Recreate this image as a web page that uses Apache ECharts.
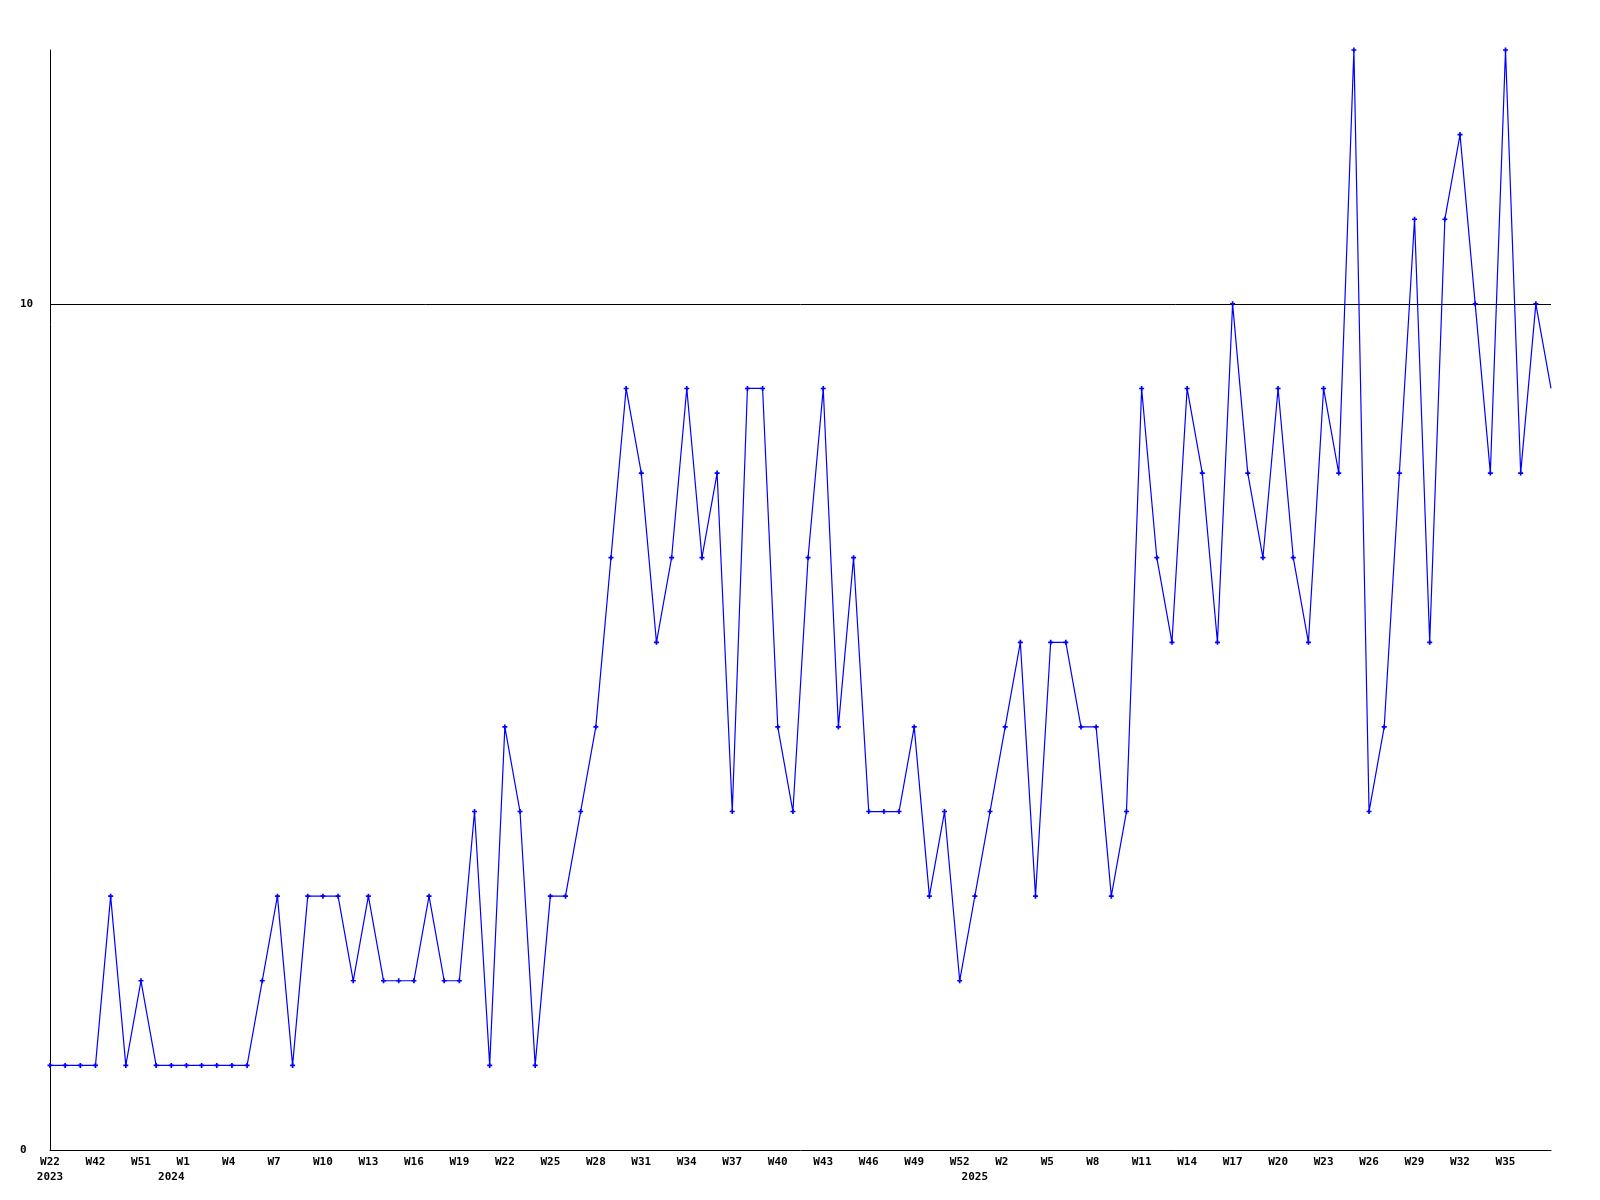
<!DOCTYPE html>
<html>
<head>
<meta charset="utf-8">
<title>weekly</title>
<script src="https://cdn.jsdelivr.net/npm/echarts@6/dist/echarts.min.js"></script>
<style>
    html, body { margin: 0; padding: 0; background: #fff; }
    #chart1 { width: 1600px; height: 1200px; }
</style>
</head>
<body>
<div id="chart1"></div>
<script>
// week labels, one per point (only every 3rd one is shown)
const categories = [
    'W22', 'W33', 'W38', 'W42', 'W45', 'W48', 'W51', 'W52',
    'W0', 'W1', 'W2', 'W3', 'W4', 'W5', 'W6', 'W7', 'W8', 'W9', 'W10',
    'W11', 'W12', 'W13', 'W14', 'W15', 'W16', 'W17', 'W18', 'W19', 'W20',
    'W21', 'W22', 'W23', 'W24', 'W25', 'W26', 'W27', 'W28', 'W29', 'W30',
    'W31', 'W32', 'W33', 'W34', 'W35', 'W36', 'W37', 'W38', 'W39', 'W40',
    'W41', 'W42', 'W43', 'W44', 'W45', 'W46', 'W47', 'W48', 'W49', 'W50',
    'W51', 'W52',
    'W0', 'W1', 'W2', 'W3', 'W4', 'W5', 'W6', 'W7', 'W8', 'W9', 'W10',
    'W11', 'W12', 'W13', 'W14', 'W15', 'W16', 'W17', 'W18', 'W19', 'W20',
    'W21', 'W22', 'W23', 'W24', 'W25', 'W26', 'W27', 'W28', 'W29', 'W30',
    'W31', 'W32', 'W33', 'W34', 'W35', 'W36', 'W37', 'W38'
]
// year written under the first point of each year
const yearLabels = { 0: '2023', 8: '2024', 61: '2025' }

const values = [
    1, 1, 1, 1, 3, 1, 2, 1, 1, 1,
    1, 1, 1, 1, 2, 3, 1, 3, 3, 3,
    2, 3, 2, 2, 2, 3, 2, 2, 4, 1,
    5, 4, 1, 3, 3, 4, 5, 7, 9, 8,
    6, 7, 9, 7, 8, 4, 9, 9, 5, 4,
    7, 9, 5, 7, 4, 4, 4, 5, 3, 4,
    2, 3, 4, 5, 6, 3, 6, 6, 5, 5,
    3, 4, 9, 7, 6, 9, 8, 6, 10, 8,
    7, 9, 7, 6, 9, 8, 13, 4, 5, 8,
    11, 6, 11, 12, 10, 8, 13, 8, 10, 9
]

const yMin = 0
const yMax = 13
const yStep = 10

const theFont = 'DejaVu Sans Mono'

let chart1 = echarts.init(document.getElementById('chart1'), null, { renderer: 'canvas' })

// last point has no marker in the original
let sData = values.map((v, i) => {
    if (i === values.length - 1) {
        return { value: v, symbol: 'none' }
    }
    return v
})

let option = {
    backgroundColor: '#ffffff',
    animation: false,
    grid: {
        left: 50,
        right: 49,
        top: 50,
        bottom: 50,
        containLabel: false
    },
    xAxis: {
        type: 'category',
        boundaryGap: false,
        data: categories,
        axisLine: {
            lineStyle: { color: '#000', width: 1 }
        },
        axisTick: { show: false },
        splitLine: { show: false },
        axisLabel: {
            hideOverlap: false,
            showMinLabel: true,
            showMaxLabel: false,
            interval: function (idx) {
                return idx % 3 === 0 || yearLabels[idx] !== undefined
            },
            formatter: function (value, idx) {
                // pad to 3 chars so short labels sit like the long ones
                let top = idx % 3 === 0 ? value.padEnd(3, ' ') : ' '
                if (yearLabels[idx]) {
                    return top + '\n' + yearLabels[idx]
                }
                return top
            },
            color: '#000',
            fontFamily: theFont,
            fontWeight: 'bold',
            fontSize: 11,
            lineHeight: 15,
            margin: 5
        }
    },
    yAxis: {
        type: 'value',
        min: yMin,
        max: yMax,
        interval: yStep,
        axisLine: {
            show: true,
            lineStyle: { color: '#000', width: 1 }
        },
        axisTick: { show: false },
        splitLine: {
            show: true,
            showMinLine: false,
            showMaxLine: false,
            lineStyle: { color: '#000', width: 1 }
        },
        axisLabel: {
            align: 'left',
            margin: 30,
            showMaxLabel: false,
            // only the real ticks (0, 10) get a label
            formatter: function (v) {
                return v % yStep === 0 ? String(v) : ''
            },
            color: '#000',
            fontFamily: theFont,
            fontWeight: 'bold',
            fontSize: 11
        }
    },
    series: [
        {
            type: 'line',
            data: sData,
            showAllSymbol: true,
            symbol: 'path://M2,0H4V2H6V4H4V6H2V4H0V2H2Z',
            symbolSize: 5,
            itemStyle: { color: '#0000ff' },
            lineStyle: { color: '#0000ff', width: 1.2 }
        }
    ]
}
chart1.setOption(option)
</script>
</body>
</html>
